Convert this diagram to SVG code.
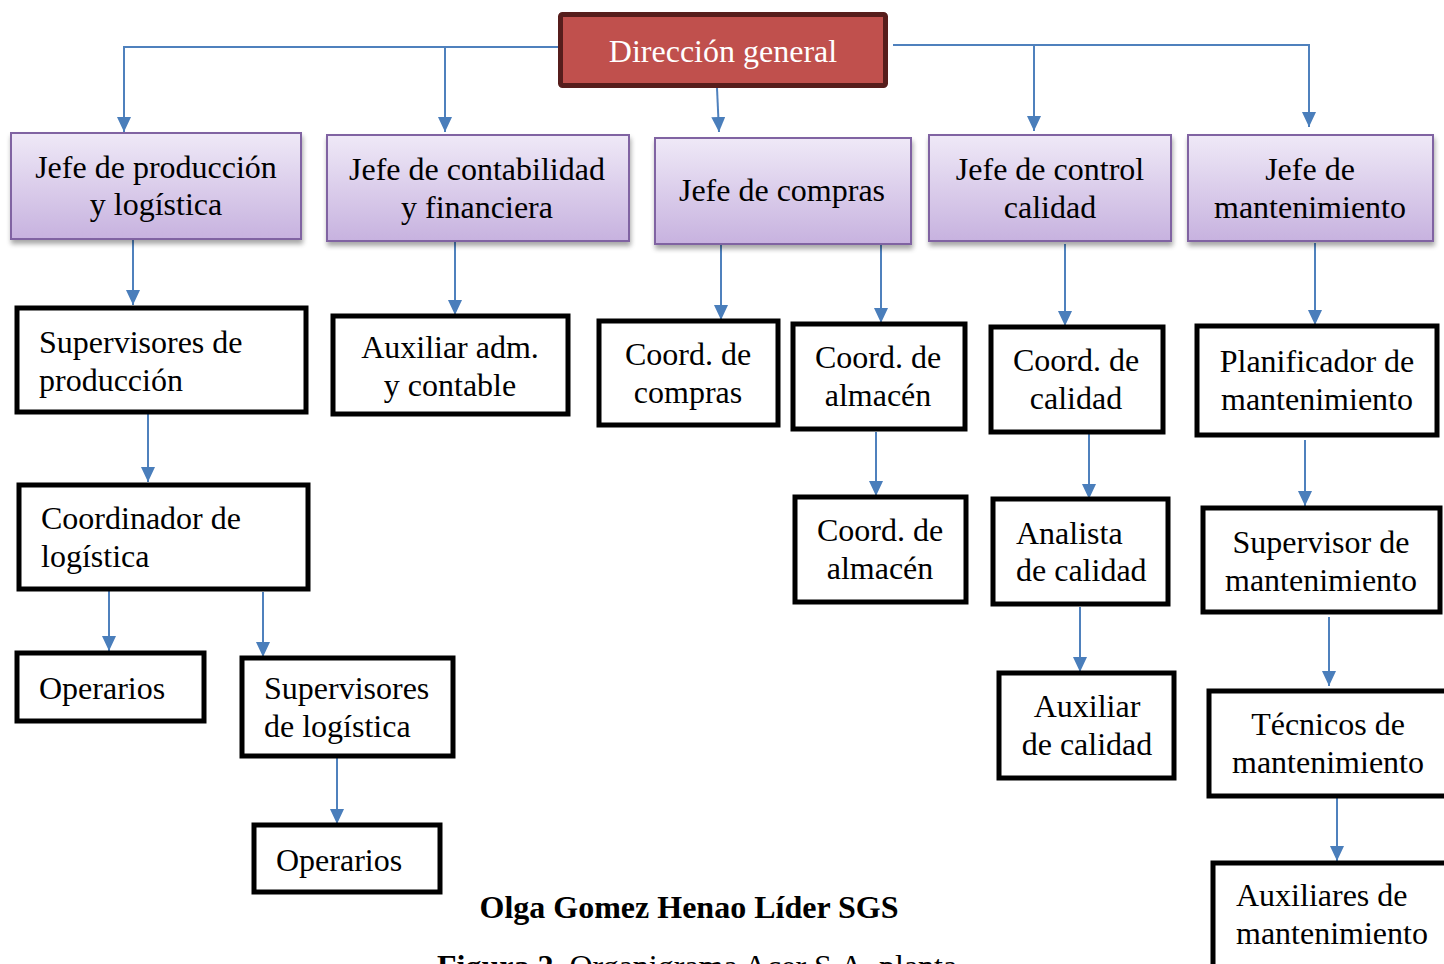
<svg xmlns="http://www.w3.org/2000/svg" width="1444" height="964" viewBox="0 0 1444 964">
<style>
text{font-family:"Liberation Serif","Times New Roman",serif;font-size:32px;fill:#000}
.c{text-anchor:middle}
.w{fill:#fff}
.b{font-weight:bold}
.pb{fill:url(#pg);stroke:#8064a2;stroke-width:2;filter:url(#sh)}
.kb{fill:#fff;stroke:#000;stroke-width:5}
.ln{fill:none;stroke:#4f81bd;stroke-width:2}
.ar{fill:none;stroke:#4f81bd;stroke-width:2;marker-end:url(#ah)}
</style>
<defs>
<linearGradient id="pg" x1="0" y1="0" x2="0" y2="1">
<stop offset="0" stop-color="#efe9f7"/>
<stop offset="1" stop-color="#c7b2df"/>
</linearGradient>
<filter id="sh" x="-10%" y="-10%" width="130%" height="140%">
<feGaussianBlur in="SourceAlpha" stdDeviation="2.5"/>
<feOffset dx="1" dy="4" result="o"/>
<feComponentTransfer><feFuncA type="linear" slope="0.35"/></feComponentTransfer>
<feMerge><feMergeNode/><feMergeNode in="SourceGraphic"/></feMerge>
</filter>
<marker id="ah" viewBox="0 0 15 14" refX="15" refY="7" markerWidth="15" markerHeight="14" markerUnits="userSpaceOnUse" orient="auto">
<path d="M0,0 L15,7 L0,14 z" fill="#4a7ebb"/>
</marker>
</defs>
<rect width="1444" height="964" fill="#fff"/>

<g id="connectors">
<polyline class="ln" points="563,47 124,47 124,118"/>
<line class="ar" x1="124" y1="60" x2="124" y2="132"/>
<line class="ar" x1="445" y1="47" x2="445" y2="132"/>
<line class="ar" x1="717" y1="88" x2="719" y2="132"/>
<polyline class="ln" points="893,45 1309,45 1309,60"/>
<line class="ar" x1="1309" y1="45" x2="1309" y2="127"/>
<line class="ar" x1="1034" y1="45" x2="1034" y2="131"/>
<line class="ar" x1="133" y1="240" x2="133" y2="305"/>
<line class="ar" x1="148" y1="414" x2="148" y2="482"/>
<line class="ar" x1="109" y1="590" x2="109" y2="651"/>
<line class="ar" x1="263" y1="592" x2="263" y2="657"/>
<line class="ar" x1="337" y1="758" x2="337" y2="824"/>
<line class="ar" x1="455" y1="236" x2="455" y2="315"/>
<line class="ar" x1="721" y1="239" x2="721" y2="320"/>
<line class="ar" x1="881" y1="244" x2="881" y2="323"/>
<line class="ar" x1="876" y1="432" x2="876" y2="496"/>
<line class="ar" x1="1065" y1="244" x2="1065" y2="326"/>
<line class="ar" x1="1089" y1="434" x2="1089" y2="499"/>
<line class="ar" x1="1080" y1="607" x2="1080" y2="672"/>
<line class="ar" x1="1315" y1="243" x2="1315" y2="325"/>
<line class="ar" x1="1305" y1="440" x2="1305" y2="506"/>
<line class="ar" x1="1329" y1="617" x2="1329" y2="686"/>
<line class="ar" x1="1337" y1="797" x2="1337" y2="861"/>
</g>

<g id="n-direccion">
<rect x="560.5" y="14.5" width="325" height="71" rx="2" fill="#c0504d" stroke="#561d1c" stroke-width="5"/>
<text class="c w" x="723" y="62">Dirección general</text>
</g>

<g id="n-jefe-produccion">
<rect class="pb" x="11" y="133" width="290" height="106"/>
<text class="c" x="156" y="178">Jefe de producción</text>
<text class="c" x="156" y="215">y logística</text>
</g>
<g id="n-jefe-contabilidad">
<rect class="pb" x="327" y="135" width="302" height="106"/>
<text class="c" x="477" y="180">Jefe de contabilidad</text>
<text class="c" x="477" y="218">y financiera</text>
</g>
<g id="n-jefe-compras">
<rect class="pb" x="655" y="138" width="256" height="106"/>
<text class="c" x="782" y="201">Jefe de compras</text>
</g>
<g id="n-jefe-control">
<rect class="pb" x="929" y="135" width="242" height="106"/>
<text class="c" x="1050" y="180">Jefe de control</text>
<text class="c" x="1050" y="218">calidad</text>
</g>
<g id="n-jefe-mantenimiento">
<rect class="pb" x="1188" y="135" width="245" height="106"/>
<text class="c" x="1310" y="180">Jefe de</text>
<text class="c" x="1310" y="218">mantenimiento</text>
</g>

<g id="n-sup-produccion">
<rect class="kb" x="17" y="308" width="289" height="104"/>
<text x="39" y="353">Supervisores de</text>
<text x="39" y="391">producción</text>
</g>
<g id="n-aux-adm">
<rect class="kb" x="333" y="316" width="235" height="98"/>
<text class="c" x="450" y="358">Auxiliar adm.</text>
<text class="c" x="450" y="396">y contable</text>
</g>
<g id="n-coord-compras">
<rect class="kb" x="599" y="321" width="179" height="104"/>
<text class="c" x="688" y="365">Coord. de</text>
<text class="c" x="688" y="403">compras</text>
</g>
<g id="n-coord-almacen-1">
<rect class="kb" x="793" y="324" width="172" height="105"/>
<text class="c" x="878" y="368">Coord. de</text>
<text class="c" x="878" y="406">almacén</text>
</g>
<g id="n-coord-calidad">
<rect class="kb" x="991" y="327" width="172" height="105"/>
<text class="c" x="1076" y="371">Coord. de</text>
<text class="c" x="1076" y="409">calidad</text>
</g>
<g id="n-planificador">
<rect class="kb" x="1197" y="326" width="240" height="109"/>
<text class="c" x="1317" y="372">Planificador de</text>
<text class="c" x="1317" y="410">mantenimiento</text>
</g>

<g id="n-coord-logistica">
<rect class="kb" x="19" y="485" width="289" height="104"/>
<text x="41" y="529">Coordinador de</text>
<text x="41" y="567">logística</text>
</g>
<g id="n-coord-almacen-2">
<rect class="kb" x="795" y="497" width="171" height="105"/>
<text class="c" x="880" y="541">Coord. de</text>
<text class="c" x="880" y="579">almacén</text>
</g>
<g id="n-analista">
<rect class="kb" x="993" y="499" width="175" height="105"/>
<text x="1016" y="544">Analista</text>
<text x="1016" y="581">de calidad</text>
</g>
<g id="n-sup-mantenimiento">
<rect class="kb" x="1203" y="508" width="237" height="104"/>
<text class="c" x="1321" y="553">Supervisor de</text>
<text class="c" x="1321" y="591">mantenimiento</text>
</g>

<g id="n-operarios-1">
<rect class="kb" x="17" y="653" width="187" height="68"/>
<text x="39" y="699">Operarios</text>
</g>
<g id="n-sup-logistica">
<rect class="kb" x="242" y="658" width="211" height="98"/>
<text x="264" y="699">Supervisores</text>
<text x="264" y="737">de logística</text>
</g>
<g id="n-aux-calidad">
<rect class="kb" x="999" y="673" width="175" height="105"/>
<text class="c" x="1087" y="717">Auxiliar</text>
<text class="c" x="1087" y="755">de calidad</text>
</g>
<g id="n-tecnicos">
<rect class="kb" x="1209" y="691" width="250" height="105"/>
<text class="c" x="1328" y="735">Técnicos de</text>
<text class="c" x="1328" y="773">mantenimiento</text>
</g>
<g id="n-operarios-2">
<rect class="kb" x="254" y="825" width="186" height="67"/>
<text x="276" y="871">Operarios</text>
</g>
<g id="n-auxiliares-mant">
<rect class="kb" x="1213" y="863" width="250" height="120"/>
<text x="1236" y="906">Auxiliares de</text>
<text x="1236" y="944">mantenimiento</text>
</g>

<g id="caption">
<text class="c b" x="689" y="918">Olga Gomez Henao Líder SGS</text>
<text x="437" y="977"><tspan class="b">Figura 2.</tspan> Organigrama Acer S.A. planta</text>
</g>
</svg>
